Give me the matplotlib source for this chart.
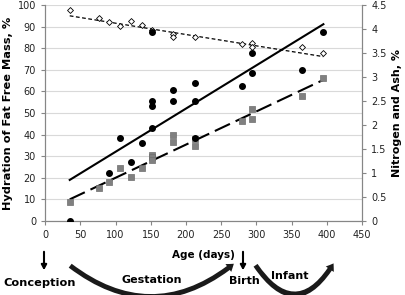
import numpy as np
import matplotlib.pyplot as plt
from matplotlib.patches import FancyArrowPatch

# Hydration of fat free mass (left axis, %)
hyd_days = [35, 76, 91, 106, 122, 137, 152, 182, 182, 213, 279, 294, 294, 365, 395]
hyd_vals = [97.8, 93.8, 92.0, 90.3, 92.6, 90.6, 88.4, 86.4, 85.3, 85.0, 82.0, 82.2, 80.7, 80.7, 77.9]

# Nitrogen (right axis, %)
nit_days = [35, 91, 106, 122, 137, 152, 152, 152, 152, 182, 182, 213, 213, 213, 279, 294, 294, 365, 395]
nit_vals = [0.0, 0.99, 1.72, 1.22, 1.62, 3.93, 2.50, 2.39, 1.94, 2.72, 2.51, 2.88, 2.50, 1.72,
            2.81, 3.51, 3.09, 3.15, 3.94]

# Ash (right axis, %)
ash_days = [35, 76, 91, 106, 122, 137, 152, 152, 152, 182, 182, 213, 213, 279, 294, 294, 365, 395]
ash_vals = [0.39, 0.68, 0.81, 1.10, 0.92, 1.10, 1.38, 1.33, 1.26, 1.79, 1.64, 1.71, 1.56,
            2.09, 2.33, 2.12, 2.61, 2.97]

# trend line end points
trend_days = [35, 395]
hyd_trend = [95.0, 76.1]
nit_trend = [0.855, 4.10]
ash_trend = [0.45, 2.94]

fig = plt.figure(figsize=(4.06, 2.95), dpi=100)
ax = fig.add_axes([0.111, 0.251, 0.781, 0.732])
ax2 = ax.twinx()

grid_c = '#d9d9d9'
spine_c = '#868686'

ax.set_xlim(0, 450)
ax.set_ylim(0, 100)
ax2.set_ylim(0, 4.5)
ax.set_xticks(np.arange(0, 451, 50))
ax.set_yticks(np.arange(0, 101, 10))
ax2.set_yticks(np.arange(0, 4.51, 0.5))
ax2.set_yticklabels(['0', '0.5', '1', '1.5', '2', '2.5', '3', '3.5', '4', '4.5'])
ax.yaxis.grid(True, color=grid_c, lw=0.8)
ax.set_axisbelow(True)

for a in (ax, ax2):
    a.spines['top'].set_visible(False)
    for s in ('left', 'right', 'bottom'):
        a.spines[s].set_color(spine_c)
        a.spines[s].set_linewidth(0.8)
    a.tick_params(colors=spine_c, labelcolor='#222222', labelsize=7, length=3, width=0.8)

ax.plot(trend_days, hyd_trend, color='black', lw=0.9, ls=(0, (3, 2)))
ax.scatter(hyd_days, hyd_vals, marker='D', s=9, facecolor='white', edgecolor='black', lw=0.6, zorder=3)

ax2.plot(trend_days, nit_trend, color='black', lw=1.5)
ax2.plot(trend_days, ash_trend, color='black', lw=1.5, ls=(0, (8, 3)))
ax2.scatter(ash_days, ash_vals, marker='s', s=16, color='#808080', edgecolor='#6e6e6e', lw=0.5, zorder=3)
ax2.scatter(nit_days, nit_vals, marker='o', s=16, color='black', zorder=4)

ax.set_xlabel('Age (days)', fontsize=7.5, fontweight='bold', labelpad=7)
ax.set_ylabel('Hydration of Fat Free Mass, %', fontsize=8.2, fontweight='bold', labelpad=3)
ax2.set_ylabel('Nitrogen and Ash, %', fontsize=8, fontweight='bold', labelpad=4)


def px(x, y):
    return (x / 406, 1 - y / 295)


# straight arrows for conception and birth
for x in (44, 243):
    fig.add_artist(FancyArrowPatch(px(x, 249), px(x, 273), transform=fig.transFigure,
                                   arrowstyle='-|>,head_length=3,head_width=1.6', lw=1.5, color='black'))

# curved arrows for gestation and infant periods
fig.add_artist(FancyArrowPatch(px(68, 264), px(236, 262), transform=fig.transFigure,
                               connectionstyle='arc3,rad=0.4',
                               arrowstyle='simple,head_length=5,head_width=7,tail_width=3.5',
                               color='#1a1a1a', lw=0))
fig.add_artist(FancyArrowPatch(px(254, 263), px(335, 261), transform=fig.transFigure,
                               connectionstyle='arc3,rad=0.8',
                               arrowstyle='simple,head_length=5,head_width=7,tail_width=3.5',
                               color='#1a1a1a', lw=0))

fig.text(*px(40, 283), 'Conception', fontsize=8.2, fontweight='bold', ha='center', va='center')
fig.text(*px(152, 280), 'Gestation', fontsize=8, fontweight='bold', ha='center', va='center')
fig.text(*px(244, 281), 'Birth', fontsize=8, fontweight='bold', ha='center', va='center')
fig.text(*px(290, 276), 'Infant', fontsize=8, fontweight='bold', ha='center', va='center')

fig.savefig('out.png', dpi=100)
